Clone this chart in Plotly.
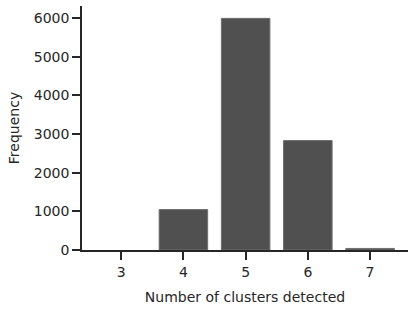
import plotly.graph_objects as go

clusters = [3, 4, 5, 6, 7]
frequency = [0, 1045, 5990, 2830, 40]
y_ticks = [0, 1000, 2000, 3000, 4000, 5000, 6000]

fig = go.Figure(go.Bar(
    x=clusters, y=frequency, width=0.78,
    marker=dict(color="#505050",
                line=dict(color="#6e6e6e", width=[0 if v == 0 else 1 for v in frequency])),
))

axis_common = dict(
    showline=True, linecolor="#262626", linewidth=1.5,
    ticks="outside", ticklen=8, tickwidth=1.5, tickcolor="#262626",
    showgrid=False, zeroline=False, automargin=False,
    tickfont=dict(family="DejaVu Sans", size=14, color="#262626"),
)

fig.update_layout(
    width=416, height=311,
    margin=dict(l=82, r=8, t=6, b=61),
    plot_bgcolor="white", paper_bgcolor="white",
    showlegend=False,
    font=dict(family="DejaVu Sans", size=14, color="#262626"),
    xaxis=dict(range=[2.37, 7.61], tickvals=clusters, ticktext=[str(c) for c in clusters],
               title=dict(text="Number of clusters detected", standoff=14,
                          font=dict(family="DejaVu Sans", size=14, color="#262626")),
               **axis_common),
    yaxis=dict(range=[0, 6310], tickvals=y_ticks, ticktext=[str(v) for v in y_ticks],
               title=dict(text="Frequency", standoff=11,
                          font=dict(family="DejaVu Sans", size=14, color="#262626")),
               **axis_common),
)

fig.write_html("out.html", config={"displayModeBar": False},
               post_script="document.body.style.margin='0px';")
